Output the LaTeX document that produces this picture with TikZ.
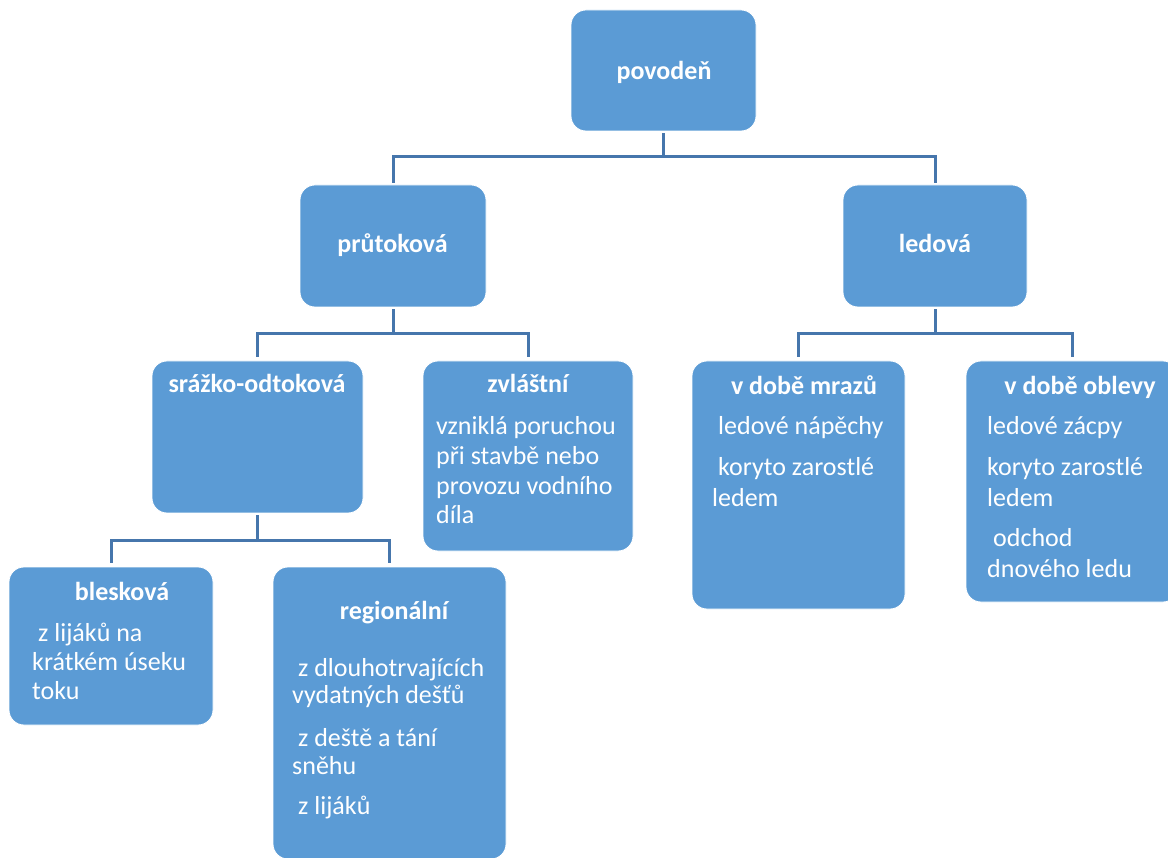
\documentclass[tikz,border=0pt]{standalone}
\usepackage{fontspec}
\setmainfont{Carlito}
\definecolor{boxblue}{RGB}{91,155,213}
\definecolor{lineblue}{RGB}{70,118,172}
\begin{document}
\begin{tikzpicture}[x=1pt,y=-1pt,
  box/.style={draw=white,line width=0.8pt,fill=boxblue,rounded corners=15pt},
  conn/.style={draw=lineblue,line width=3pt},
  ttl/.style={text=white,font=\fontsize{26}{29}\selectfont\bfseries,inner sep=0pt,anchor=base},
  txt/.style={text=white,font=\fontsize{26}{29}\selectfont,inner sep=0pt,anchor=base west}]
\useasboundingbox (0,0) rectangle (1168,858);
\clip (0,0) rectangle (1168,858);
% boxes
\node[box,minimum width=185pt,minimum height=121pt] (top)  at (663.5,70.5) {};
\node[box,minimum width=186pt,minimum height=122pt] (prut) at (393,246) {};
\node[box,minimum width=184pt,minimum height=122pt] (led)  at (935,246) {};
\node[box,minimum width=211pt,minimum height=152pt] (sraz) at (257.5,437) {};
\node[box,minimum width=210pt,minimum height=190pt] (zvl)  at (528,456) {};
\node[box,minimum width=213pt,minimum height=248pt] (mraz) at (798.5,485) {};
\node[box,minimum width=212pt,minimum height=241pt] (obl)  at (1072,481.5) {};
\node[box,minimum width=204pt,minimum height=158pt] (bles) at (111,646) {};
\node[box,minimum width=233pt,minimum height=292pt] (reg)  at (389.5,713) {};
% connectors
\coordinate (j1) at (663.5,157);
\coordinate (j2) at (393,334);
\coordinate (j3) at (935,334);
\coordinate (j4) at (257.5,540);
\draw[conn,shorten <=2pt] (top.south) -- (j1);
\draw[conn,shorten >=2pt] (j1) -| (prut.north);
\draw[conn,shorten >=2pt] (j1) -| (led.north);
\draw[conn,shorten <=2pt] (prut.south) -- (j2);
\draw[conn,shorten >=4pt] (j2) -| (sraz.north);
\draw[conn,shorten >=4pt] (j2) -| (zvl.north);
\draw[conn,shorten <=2pt] (led.south) -- (j3);
\draw[conn,shorten >=4pt] (j3) -| (mraz.north);
\draw[conn,shorten >=4pt] (j3) -| (obl.north);
\draw[conn,shorten <=2pt] (sraz.south) -- (j4);
\draw[conn,shorten >=4pt] (j4) -| (bles.north);
\draw[conn,shorten >=4pt] (j4) -| (reg.north);
% titles
\node[ttl] (ttop)  at (664,80)  {povodeň};
\node[ttl] (tprut) at (392.5,253) {průtoková};
\node[ttl] (tled)  at (935,253) {ledová};
\node[ttl] (tsraz) at (257,393) {srážko-odtoková};
\node[ttl] (tzvl)  at (528,393) {zvláštní};
\node[ttl] (tmraz) at (804,395) {v době mrazů};
\node[ttl] (tobl)  at (1080,395) {v době oblevy};
\node[ttl] (tbles) at (122,600) {blesková};
\node[ttl] (treg)  at (394,619) {regionální};
% texts
\node[txt] (z1) at (436,435) {vzniklá poruchou};
\node[txt] (z2) at (436,465) {při stavbě nebo};
\node[txt] (z3) at (436,494) {provozu vodního};
\node[txt] (z4) at (436,523) {díla};
\node[txt] (m1) at (718,435) {ledové nápěchy};
\node[txt] (m2) at (718,476) {koryto zarostlé};
\node[txt] (m3) at (712,507) {ledem};
\node[txt] (o1) at (987,435) {ledové zácpy};
\node[txt] (o2) at (987,476) {koryto zarostlé};
\node[txt] (o3) at (987,507) {ledem};
\node[txt] (o4) at (993,547) {odchod};
\node[txt] (o5) at (987,577) {dnového ledu};
\node[txt] (b1) at (38,641) {z lijáků na};
\node[txt] (b2) at (32,670) {krátkém úseku};
\node[txt] (b3) at (32,699) {toku};
\node[txt] (r1) at (298,676) {z dlouhotrvajících};
\node[txt] (r2) at (292,703) {vydatných dešťů};
\node[txt] (r3) at (298,746) {z deště a tání};
\node[txt] (r4) at (292,774) {sněhu};
\node[txt] (r5) at (298,814) {z lijáků};
\end{tikzpicture}
\end{document}
